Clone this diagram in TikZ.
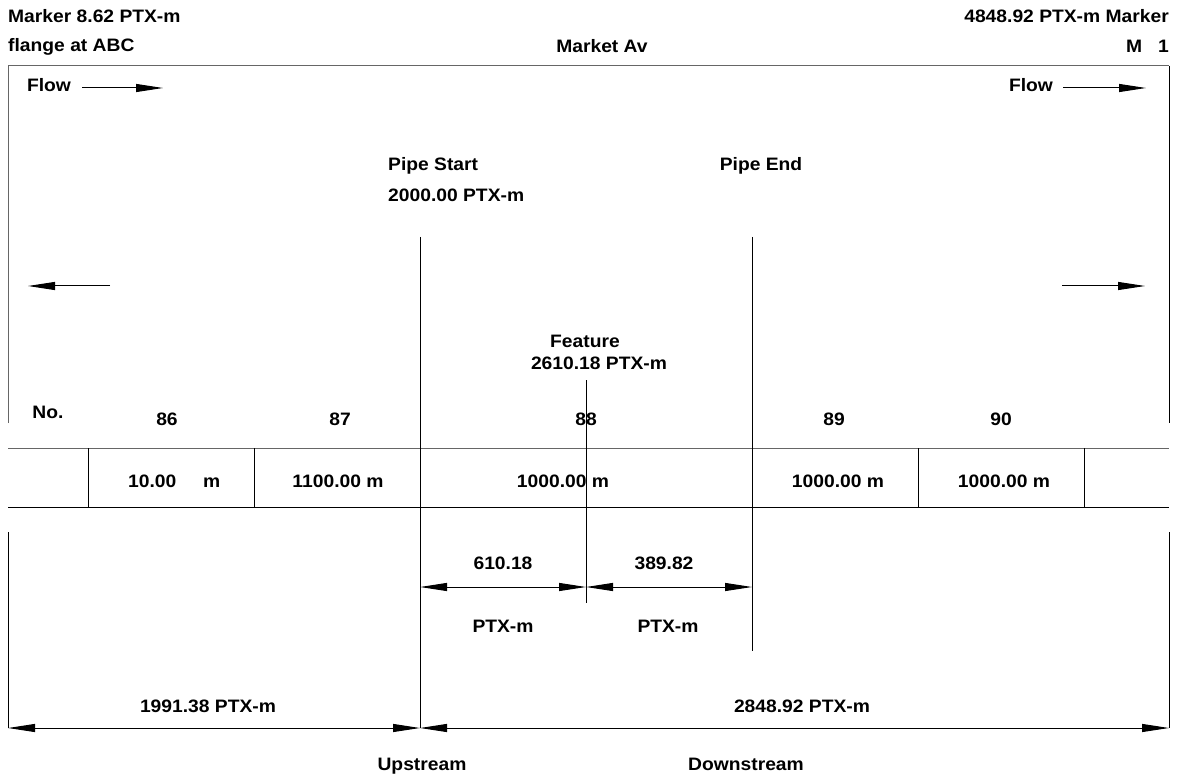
\documentclass[tikz,border=0pt]{standalone}
\usepackage{fontspec}
\setmainfont{Liberation Sans}[FakeStretch=1.07]
\usetikzlibrary{arrows.meta}
\begin{document}
\begin{tikzpicture}[x=1pt,y=-1pt,
  font=\bfseries\fontsize{18}{20}\selectfont,
  lbl/.style={inner sep=0pt,anchor=base},
  lblw/.style={inner sep=0pt,anchor=base west},
  lble/.style={inner sep=0pt,anchor=base east},
  ln/.style={line width=1pt,draw=black},
  gln/.style={line width=1pt,draw=black!60},
  tip/.style={line width=1pt,-{Triangle[length=27pt,width=8pt]}},
  dim/.style={line width=1pt,{Triangle[length=27pt,width=8pt]}-{Triangle[length=27pt,width=8pt]}}]
\useasboundingbox (0,0) rectangle (1177,775);

% ---- coordinates ----
\coordinate (ftl) at (8,66);   \coordinate (ftr) at (1169,66);
\coordinate (fl1) at (8,423);  \coordinate (fr1) at (1169,423);
\coordinate (fl2) at (8,532);  \coordinate (fl3) at (8,728);
\coordinate (fr2) at (1169,532); \coordinate (fr3) at (1169,728);
\coordinate (ttl) at (8,448);  \coordinate (ttr) at (1169,448);
\coordinate (tbl) at (8,507);  \coordinate (tbr) at (1169,507);
\coordinate (d1t) at (88,448);  \coordinate (d1b) at (88,507);
\coordinate (d2t) at (254,448); \coordinate (d2b) at (254,507);
\coordinate (d5t) at (918,448); \coordinate (d5b) at (918,507);
\coordinate (d6t) at (1084,448); \coordinate (d6b) at (1084,507);
\coordinate (pst) at (420,237); \coordinate (psb) at (420,728);
\coordinate (pet) at (752,237); \coordinate (peb) at (752,651);
\coordinate (fet) at (586,380); \coordinate (feb) at (586,603);
\coordinate (da) at (420,587); \coordinate (db) at (586,587); \coordinate (dc) at (752,587);
\coordinate (ba) at (8,728); \coordinate (bb) at (420,728); \coordinate (bc) at (1169,728);
\coordinate (fa1) at (82,88);   \coordinate (fa2) at (163,88);
\coordinate (fb1) at (1063,88); \coordinate (fb2) at (1146,88);
\coordinate (sa1) at (110,286); \coordinate (sa2) at (28,286);
\coordinate (sb1) at (1062,286); \coordinate (sb2) at (1145,286);

% ---- frame and table ----
\draw[gln] (fl1) -- (ftl) -- (ftr);
\draw[ln] (ftr) -- (fr1);
\draw[ln] (fl2) -- (fl3);
\draw[ln] (fr2) -- (fr3);
\draw[gln] (ttl) -- (ttr);
\draw[ln] (tbl) -- (tbr);
\draw[ln] (d1t) -- (d1b);
\draw[ln] (d2t) -- (d2b);
\draw[ln] (d5t) -- (d5b);
\draw[ln] (d6t) -- (d6b);
\draw[ln] (pst) -- (psb);
\draw[ln] (pet) -- (peb);
\draw[ln] (fet) -- (feb);

% ---- arrows ----
\draw[tip] (fa1) -- (fa2);
\draw[tip] (fb1) -- (fb2);
\draw[tip] (sa1) -- (sa2);
\draw[tip] (sb1) -- (sb2);
\draw[dim] (da) -- (db);
\draw[dim] (db) -- (dc);
\draw[dim] (ba) -- (bb);
\draw[dim] (bb) -- (bc);

% ---- texts ----
\node[lblw] (mk1) at (8,23) {Marker 8.62 PTX-m};
\node[lblw] (fl) at (8,52) {flange at ABC};
\node[lbl] (mav) at (602,53) {Market Av};
\node[lble] (mk2) at (1169,23) {4848.92 PTX-m Marker};
\node[lble] (m1) at (1169,53) {M\ \ \ 1};
\node[lbl] (flow1) at (49,92) {Flow};
\node[lbl] (flow2) at (1031,92) {Flow};
\node[lblw] (ps) at (388,171) {Pipe Start};
\node[lblw] (psv) at (388,202) {2000.00 PTX-m};
\node[lbl] (pe) at (761,171) {Pipe End};
\node[lbl] (fe) at (585,348) {Feature};
\node[lbl] (fev) at (599,369) {2610.18 PTX-m};
\node[lbl] (no) at (48,418) {No.};
\node[lbl] (n86) at (167,425) {86};
\node[lbl] (n87) at (340,425) {87};
\node[lbl] (n88) at (586,425) {88};
\node[lbl] (n89) at (834,425) {89};
\node[lbl] (n90) at (1001,425) {90};
\node[lblw] (l86) at (128,487) {10.00};
\node[lblw] (l86m) at (203,487) {m};
\node[lbl] (l87) at (338,487) {1100.00 m};
\node[lbl] (l88) at (563,487) {1000.00 m};
\node[lbl] (l89) at (838,487) {1000.00 m};
\node[lbl] (l90) at (1004,487) {1000.00 m};
\node[lbl] (dv1) at (503,569) {610.18};
\node[lbl] (dv2) at (664,569) {389.82};
\node[lbl] (du1) at (503,632) {PTX-m};
\node[lbl] (du2) at (668,632) {PTX-m};
\node[lbl] (up) at (208,712) {1991.38 PTX-m};
\node[lbl] (dn) at (802,712) {2848.92 PTX-m};
\node[lbl] (ups) at (422,770) {Upstream};
\node[lbl] (dns) at (746,770) {Downstream};
\end{tikzpicture}
\end{document}
